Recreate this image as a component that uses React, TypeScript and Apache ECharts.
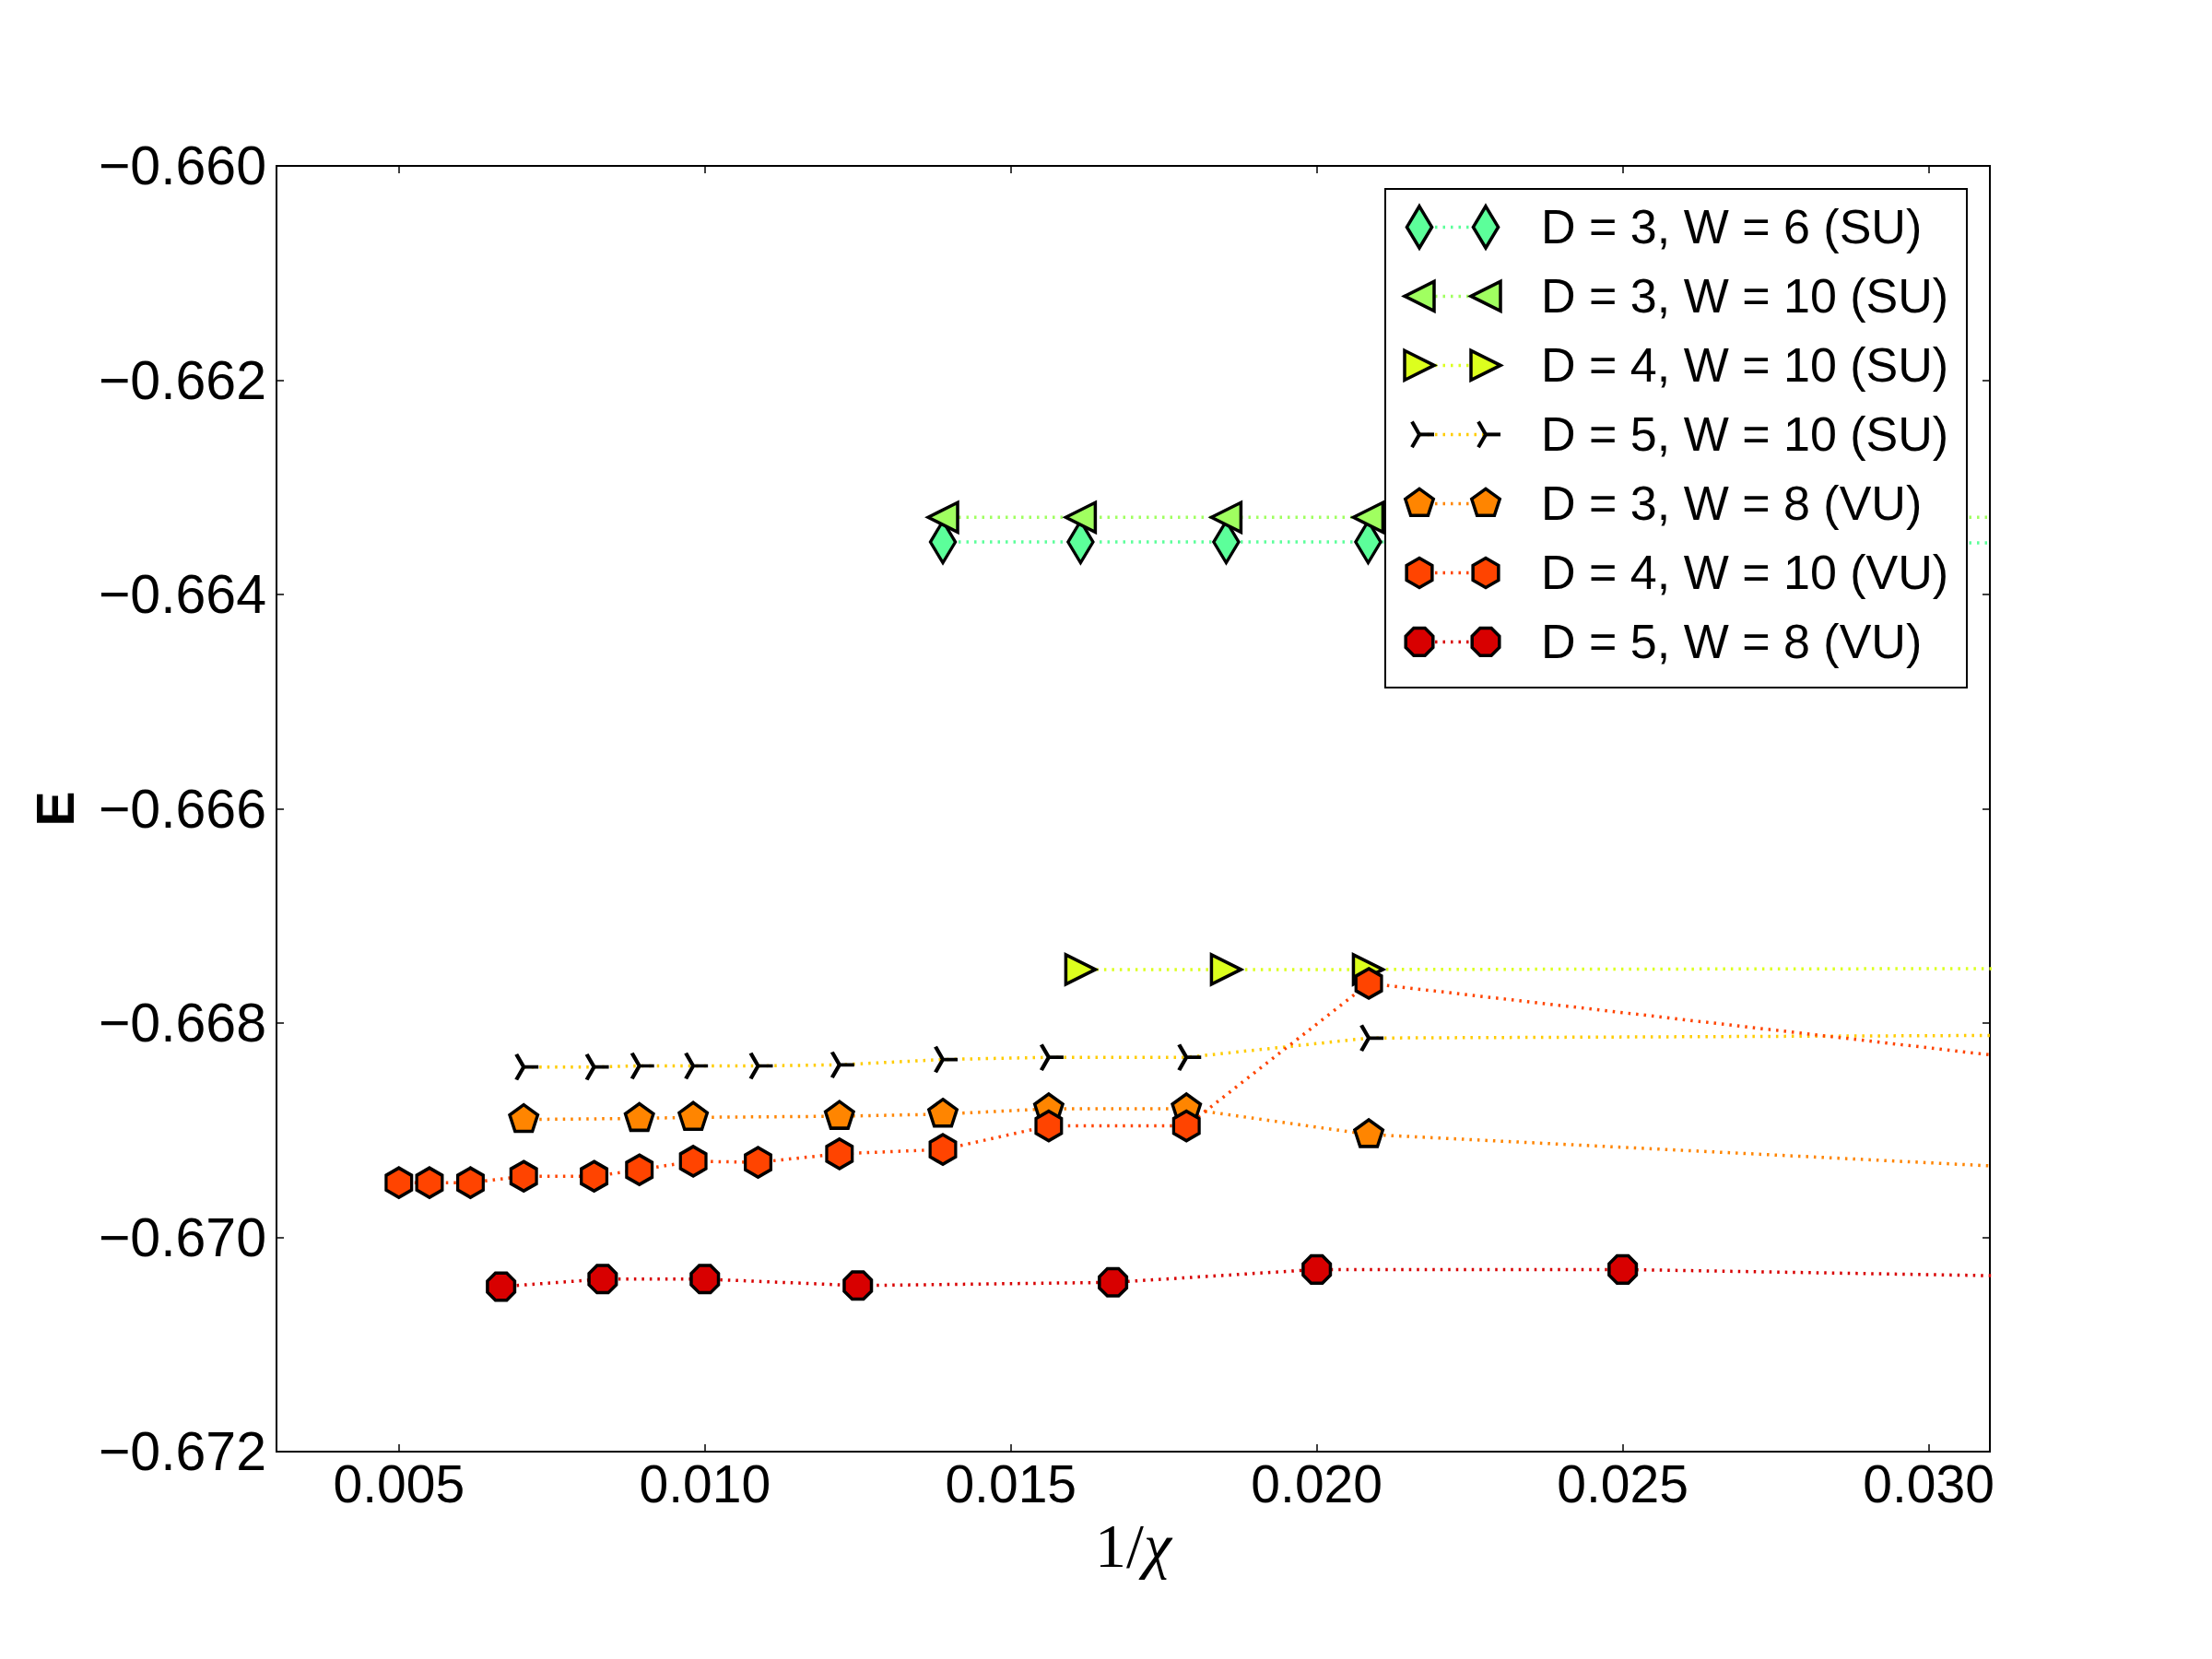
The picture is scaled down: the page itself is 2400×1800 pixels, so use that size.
import React, { useEffect, useRef } from "react";
import * as echarts from "echarts";

// ---- data: energy E versus inverse bond dimension 1/chi ----
const X_D3W6_SU = [0.01389, 0.01614, 0.01852, 0.02084, 0.03333];
const E_D3W6_SU = [-0.66351, -0.66351, -0.66351, -0.66351, -0.66352];

const X_D3W10_SU = [0.01389, 0.01614, 0.01852, 0.02084, 0.03333];
const E_D3W10_SU = [-0.66328, -0.66328, -0.66328, -0.66328, -0.66328];

const X_D4W10_SU = [0.01614, 0.01852, 0.02084, 0.03333];
const E_D4W10_SU = [-0.6675, -0.6675, -0.6675, -0.66749];

const X_D5W10_SU = [0.00704, 0.00819, 0.00893, 0.00981, 0.01087, 0.0122, 0.01389, 0.01562, 0.01787, 0.02085, 0.03333];
const E_D5W10_SU = [-0.66841, -0.66841, -0.6684, -0.6684, -0.6684, -0.66839, -0.66834, -0.66832, -0.66832, -0.66814, -0.66811];

const X_D3W8_VU = [0.00704, 0.00893, 0.00981, 0.0122, 0.01389, 0.01562, 0.01787, 0.02085, 0.03333];
const E_D3W8_VU = [-0.6689, -0.66889, -0.66888, -0.66887, -0.66885, -0.6688, -0.6688, -0.66904, -0.6694];

const X_D4W10_VU = [0.005, 0.0055, 0.00617, 0.00704, 0.00819, 0.00893, 0.00981, 0.01087, 0.0122, 0.01389, 0.01562, 0.01787, 0.02085, 0.03333];
const E_D4W10_VU = [-0.66949, -0.66949, -0.66949, -0.66943, -0.66943, -0.66937, -0.66929, -0.6693, -0.66922, -0.66918, -0.66896, -0.66896, -0.66763, -0.66845];

const X_D5W8_VU = [0.00667, 0.00833, 0.01, 0.0125, 0.01667, 0.02, 0.025, 0.03333];
const E_D5W8_VU = [-0.67046, -0.67039, -0.67039, -0.67045, -0.67042, -0.6703, -0.6703, -0.67038];

const SERIES_NAMES = [
  "D = 3, W = 6 (SU)",
  "D = 3, W = 10 (SU)",
  "D = 4, W = 10 (SU)",
  "D = 5, W = 10 (SU)",
  "D = 3, W = 8 (VU)",
  "D = 4, W = 10 (VU)",
  "D = 5, W = 8 (VU)",
];

const X_TICKS = [0.005, 0.01, 0.015, 0.02, 0.025, 0.03];

// ---- styling ----
const W = 2400;
const H = 1800;
const GRID = { left: 300, right: 241, top: 180, bottom: 225 };
const SANS = "'Liberation Sans', Arial, Helvetica, sans-serif";
const SERIF = "'Liberation Serif', 'DejaVu Serif', serif";
const R = 16; // marker radius in px
const EDGE = 3.5; // marker outline width

// unit marker outlines, y pointing down
const octagon: number[][] = [];
for (let k = 0; k < 8; k++) {
  const a = ((22.5 + 45 * k) * Math.PI) / 180;
  octagon.push([Math.cos(a), Math.sin(a)]);
}
const SHAPES: Record<string, { pts: number[][]; closed: boolean }> = {
  thinDiamond: { pts: [[0, -1.414], [0.848, 0], [0, 1.414], [-0.848, 0]], closed: true },
  triLeft: { pts: [[-1, 0], [1, -1], [1, 1]], closed: true },
  triRight: { pts: [[1, 0], [-1, -1], [-1, 1]], closed: true },
  tri4: { pts: [[1, 0], [-0.5, -0.866], [-0.5, 0.866]], closed: false },
  pentagon: { pts: [[0, -1], [0.951, -0.309], [0.588, 0.809], [-0.588, 0.809], [-0.951, -0.309]], closed: true },
  hexagon: { pts: [[0, -1], [0.866, -0.5], [0.866, 0.5], [0, 1], [-0.866, 0.5], [-0.866, -0.5]], closed: true },
  octagon: { pts: octagon, closed: true },
};

function halfExtents(pts: number[][]) {
  let hx = 0;
  let hy = 0;
  pts.forEach(([x, y]) => {
    hx = Math.max(hx, Math.abs(x));
    hy = Math.max(hy, Math.abs(y));
  });
  return [hx, hy];
}

// path:// symbol whose bounding box is centred on the marker centre
function symbolOf(key: string) {
  const { pts, closed } = SHAPES[key];
  const [hx, hy] = halfExtents(pts);
  const f = (v: number) => (v * 100).toFixed(2);
  let d = "";
  if (closed) {
    d = pts.map(([x, y], i) => `${i ? "L" : "M"}${f(x)} ${f(y)}`).join(" ") + " Z";
  } else {
    d = pts.map(([x, y]) => `M0 0 L${f(x)} ${f(y)}`).join(" ");
  }
  d += ` M${f(hx)} 0 M${f(-hx)} 0 M0 ${f(hy)} M0 ${f(-hy)}`;
  return { symbol: "path://" + d, size: [2 * hx * R, 2 * hy * R] };
}

const STYLE = [
  { marker: "thinDiamond", fill: "#5cff9a", line: "#5cff9a" },
  { marker: "triLeft", fill: "#a0ff60", line: "#a0ff60" },
  { marker: "triRight", fill: "#dcff1e", line: "#dcff1e" },
  { marker: "tri4", fill: "none", line: "#ffcc00" },
  { marker: "pentagon", fill: "#ff8500", line: "#ff8500" },
  { marker: "hexagon", fill: "#ff4400", line: "#ff4400" },
  { marker: "octagon", fill: "#d80000", line: "#d80000" },
];

const XS = [X_D3W6_SU, X_D3W10_SU, X_D4W10_SU, X_D5W10_SU, X_D3W8_VU, X_D4W10_VU, X_D5W8_VU];
const ES = [E_D3W6_SU, E_D3W10_SU, E_D4W10_SU, E_D5W10_SU, E_D3W8_VU, E_D4W10_VU, E_D5W8_VU];

const DASH = [2.5, 6];
const LINE_W = 3.5;

function buildSeries() {
  return SERIES_NAMES.map((name, i) => {
    const st = STYLE[i];
    const sym = symbolOf(st.marker);
    return {
      type: "line",
      name,
      data: XS[i].map((x, j) => [x, ES[i][j]]),
      symbol: sym.symbol,
      symbolSize: sym.size,
      showSymbol: true,
      clip: true,
      itemStyle: {
        color: st.fill,
        borderColor: "#000",
        borderWidth: st.marker === "tri4" ? 4 : EDGE,
      },
      lineStyle: { color: st.line, width: LINE_W, type: DASH },
      emphasis: { disabled: true },
      z: 2,
    };
  });
}

// legend box drawn with graphic elements: two markers joined by a dotted line
function buildLegend() {
  const box = { x: 1503, y: 205, w: 631, h: 541 };
  const rowY0 = 246.4;
  const rowStep = 75;
  const m1 = 1540;
  const m2 = 1612;
  const textX = 1672;
  const els: any[] = [
    {
      type: "rect",
      shape: { x: box.x, y: box.y, width: box.w, height: box.h },
      style: { fill: "#fff", stroke: "#000", lineWidth: 2 },
      z: 100,
    },
  ];
  const markerEls = (key: string, cx: number, cy: number, fill: string) => {
    const { pts, closed } = SHAPES[key];
    if (closed) {
      return [
        {
          type: "polygon",
          shape: { points: pts.map(([x, y]) => [cx + x * R, cy + y * R]) },
          style: { fill, stroke: "#000", lineWidth: EDGE },
          z: 102,
        },
      ];
    }
    return pts.map(([x, y]) => ({
      type: "line",
      shape: { x1: cx, y1: cy, x2: cx + x * R, y2: cy + y * R },
      style: { stroke: "#000", lineWidth: 4 },
      z: 102,
    }));
  };
  SERIES_NAMES.forEach((name, i) => {
    const st = STYLE[i];
    const cy = rowY0 + i * rowStep;
    els.push({
      type: "line",
      shape: { x1: m1, y1: cy, x2: m2, y2: cy },
      style: { stroke: st.line, lineWidth: LINE_W, lineDash: DASH },
      z: 101,
    });
    els.push(...markerEls(st.marker, m1, cy, st.fill));
    els.push(...markerEls(st.marker, m2, cy, st.fill));
    els.push({
      type: "text",
      x: textX,
      y: cy,
      style: {
        text: name,
        fill: "#000",
        font: `52px ${SANS}`,
        textVerticalAlign: "middle",
        verticalAlign: "middle",
      },
      z: 103,
    });
  });
  return els;
}

const tickStyle = { show: true, inside: true, length: 8, lineStyle: { color: "#000", width: 1.5 } };
const fmtY = (v: number) => "\u2212" + Math.abs(v).toFixed(3);

function buildOption() {
  return {
    animation: false,
    backgroundColor: "#fff",
    grid: { ...GRID, show: true, borderColor: "#000", borderWidth: 2, backgroundColor: "transparent" },
    xAxis: [
      {
        type: "value",
        min: 0.003,
        max: 0.031,
        position: "bottom",
        axisLine: { show: false },
        splitLine: { show: false },
        axisTick: { ...tickStyle, customValues: X_TICKS },
        axisLabel: {
          customValues: X_TICKS,
          formatter: (v: number) => v.toFixed(3),
          fontSize: 57,
          fontFamily: SANS,
          color: "#000",
          margin: 6,
        },
        name: "{a|1/}{b|\u03c7}",
        nameLocation: "middle",
        nameGap: 66,
        nameTextStyle: {
          rich: {
            a: { fontFamily: SERIF, fontSize: 68, color: "#000" },
            b: { fontFamily: SERIF, fontSize: 68, fontStyle: "italic", color: "#000" },
          },
        },
      },
      {
        type: "value",
        min: 0.003,
        max: 0.031,
        position: "top",
        axisLine: { show: false },
        splitLine: { show: false },
        axisTick: { ...tickStyle, customValues: X_TICKS },
        axisLabel: { show: false },
      },
    ],
    yAxis: [
      {
        type: "value",
        min: -0.672,
        max: -0.66,
        interval: 0.002,
        position: "left",
        axisLine: { show: false },
        splitLine: { show: false },
        axisTick: tickStyle,
        axisLabel: {
          formatter: fmtY,
          fontSize: 59,
          fontFamily: SANS,
          color: "#000",
          margin: 11,
        },
        name: "E",
        nameLocation: "middle",
        nameRotate: 90,
        nameGap: 212,
        nameTextStyle: { fontSize: 57, fontWeight: "bold", fontFamily: SANS, color: "#000" },
      },
      {
        type: "value",
        min: -0.672,
        max: -0.66,
        interval: 0.002,
        position: "right",
        axisLine: { show: false },
        splitLine: { show: false },
        axisTick: tickStyle,
        axisLabel: { show: false },
      },
    ],
    series: buildSeries(),
    graphic: { elements: buildLegend() },
  };
}

export default function App() {
  const ref = useRef<HTMLDivElement>(null);
  useEffect(() => {
    if (!ref.current) return;
    const chart = echarts.init(ref.current, null, { renderer: "svg", width: W, height: H });
    chart.setOption(buildOption() as any);
    return () => chart.dispose();
  }, []);
  return (
    <div
      ref={ref}
      style={{ position: "absolute", left: 0, top: 0, width: W, height: H, background: "#fff" }}
    />
  );
}
